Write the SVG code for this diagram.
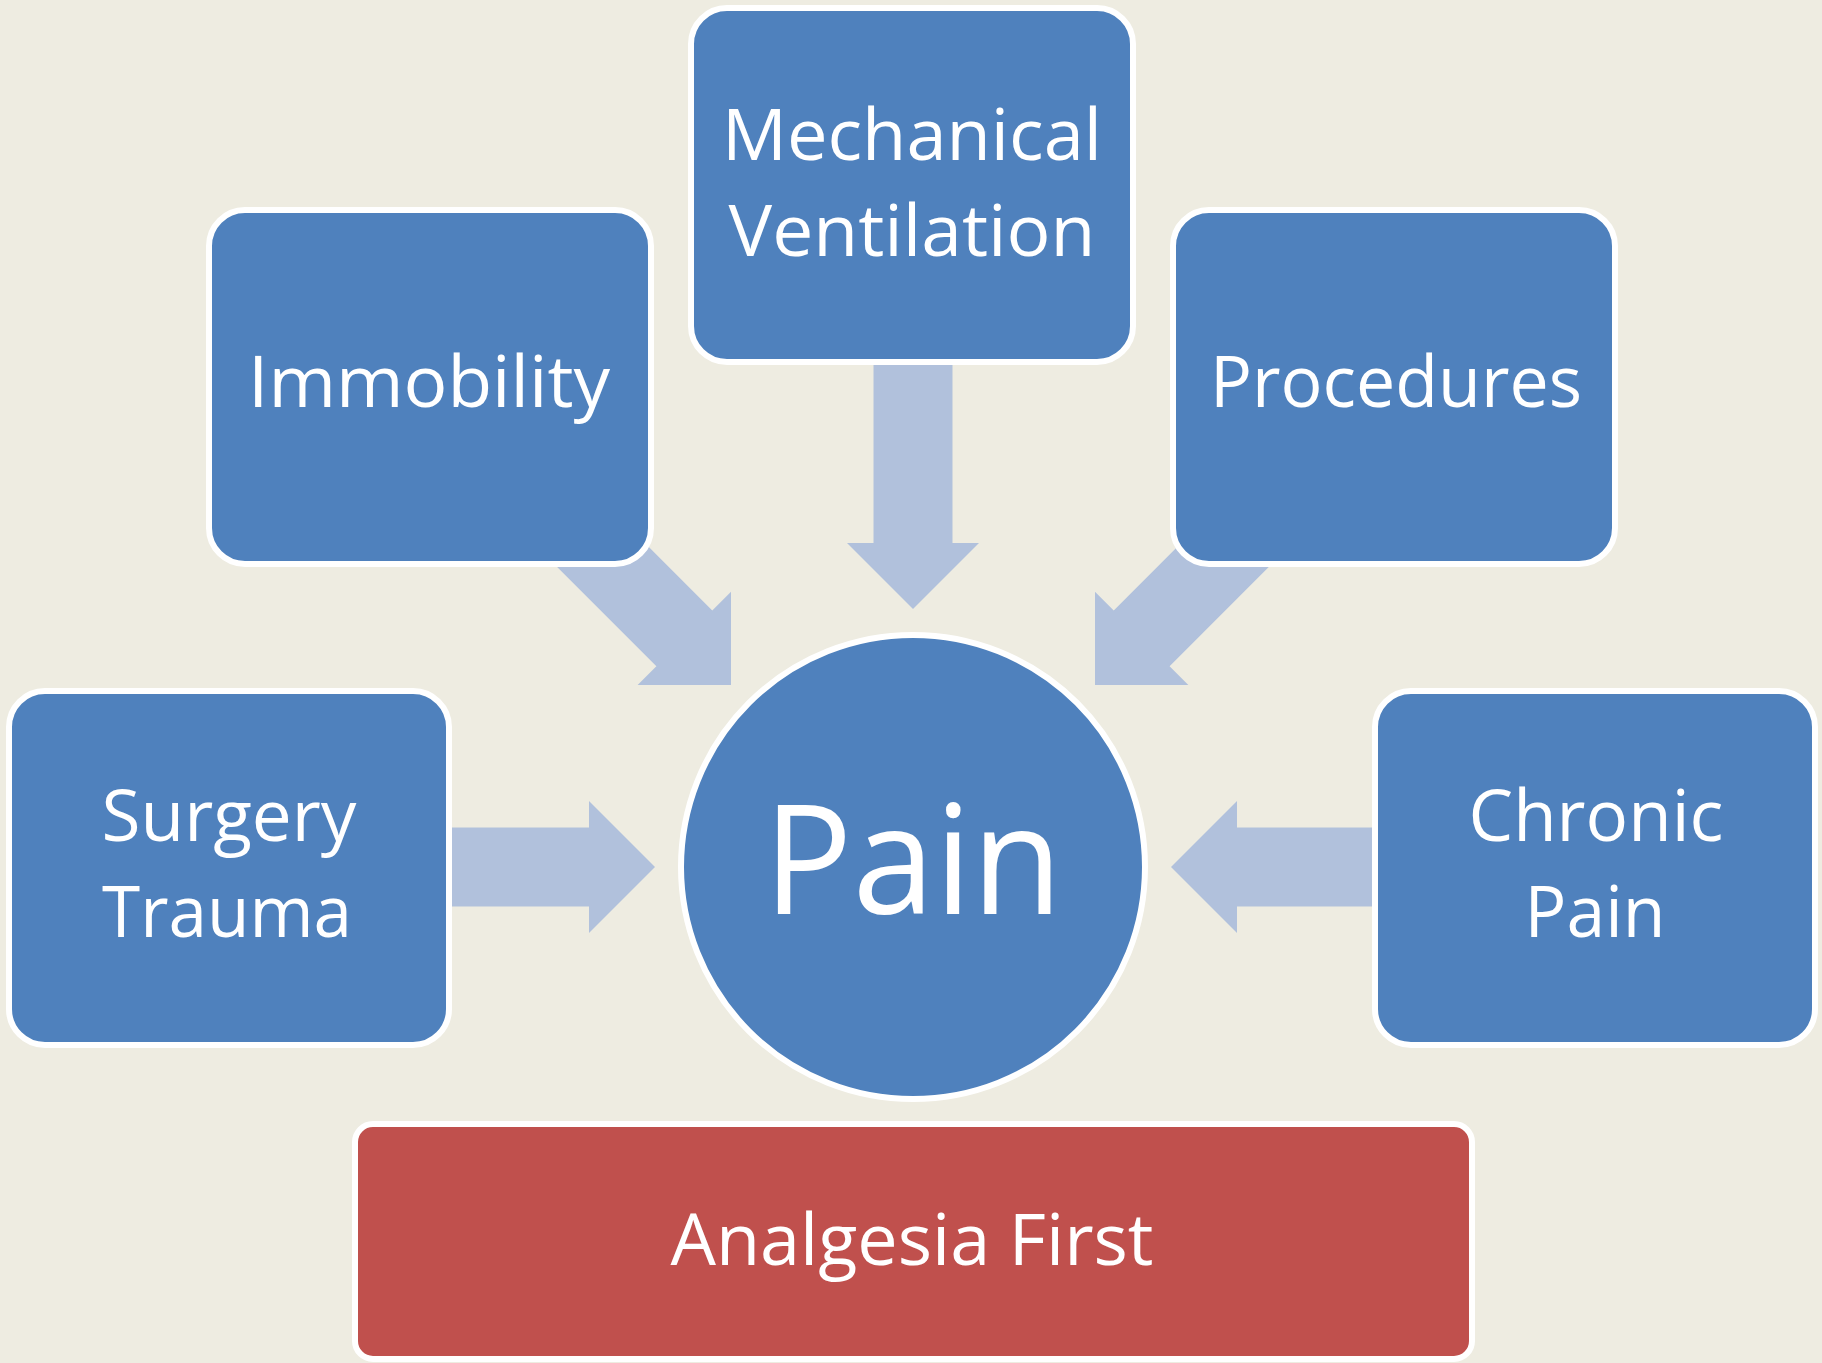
<svg xmlns="http://www.w3.org/2000/svg" xmlns:xlink="http://www.w3.org/1999/xlink" width="1822" height="1363" viewBox="0 0 1822 1363">
  <style>
    .box { fill: #4F81BD; stroke: #FFFFFF; stroke-width: 6; }
    .goal { fill: #C0504D; stroke: #FFFFFF; stroke-width: 6; }
    .arrow { fill: #B1C1DC; }
    .lbl { fill: #FFFFFF; font-family: "Open Sans", "Noto Sans", sans-serif; font-size: 71px; text-anchor: middle; }
    .big { font-size: 152px; }
  </style>
  <defs>
    <!-- block arrow, tip at origin, pointing along +x -->
    <path id="blockArrow" d="M0,0 L-66,-66 L-66,-39.5 L-270,-39.5 L-270,39.5 L-66,39.5 L-66,66 Z"/>
  </defs>

  <rect x="0" y="0" width="1822" height="1363" fill="#EEECE1"/>

  <g id="connectors" class="arrow">
    <use xlink:href="#blockArrow" transform="translate(913,609) rotate(90)"/>
    <use xlink:href="#blockArrow" transform="translate(731,685) rotate(45)"/>
    <use xlink:href="#blockArrow" transform="translate(1095,685) rotate(135)"/>
    <use xlink:href="#blockArrow" transform="translate(655,867)"/>
    <use xlink:href="#blockArrow" transform="translate(1171,867) rotate(180)"/>
  </g>

  <g id="mechanical-ventilation">
    <rect class="box" x="691" y="8" width="442" height="354" rx="36"/>
    <text class="lbl" x="912" y="160" textLength="380" lengthAdjust="spacingAndGlyphs">Mechanical</text>
    <text class="lbl" x="912" y="256" textLength="367" lengthAdjust="spacingAndGlyphs">Ventilation</text>
  </g>

  <g id="immobility">
    <rect class="box" x="209" y="210" width="442" height="354" rx="36"/>
    <text class="lbl" x="429" y="407" textLength="362" lengthAdjust="spacingAndGlyphs">Immobility</text>
  </g>

  <g id="procedures">
    <rect class="box" x="1173" y="210" width="442" height="354" rx="36"/>
    <text class="lbl" x="1396" y="407" textLength="372" lengthAdjust="spacingAndGlyphs">Procedures</text>
  </g>

  <g id="surgery-trauma">
    <rect class="box" x="9" y="691" width="440" height="354" rx="36"/>
    <text class="lbl" x="229" y="841" textLength="255" lengthAdjust="spacingAndGlyphs">Surgery</text>
    <text class="lbl" x="227" y="937" textLength="250" lengthAdjust="spacingAndGlyphs">Trauma</text>
  </g>

  <g id="chronic-pain">
    <rect class="box" x="1375" y="691" width="440" height="354" rx="36"/>
    <text class="lbl" x="1596" y="841" textLength="255" lengthAdjust="spacingAndGlyphs">Chronic</text>
    <text class="lbl" x="1595" y="937" textLength="141" lengthAdjust="spacingAndGlyphs">Pain</text>
  </g>

  <g id="pain">
    <circle class="box" cx="913" cy="867" r="232"/>
    <text class="lbl big" x="913" y="914" textLength="299" lengthAdjust="spacingAndGlyphs">Pain</text>
  </g>

  <g id="analgesia-first">
    <rect class="goal" x="355" y="1124" width="1117" height="235" rx="18"/>
    <text class="lbl" x="912" y="1265" textLength="483" lengthAdjust="spacingAndGlyphs">Analgesia First</text>
  </g>
</svg>
